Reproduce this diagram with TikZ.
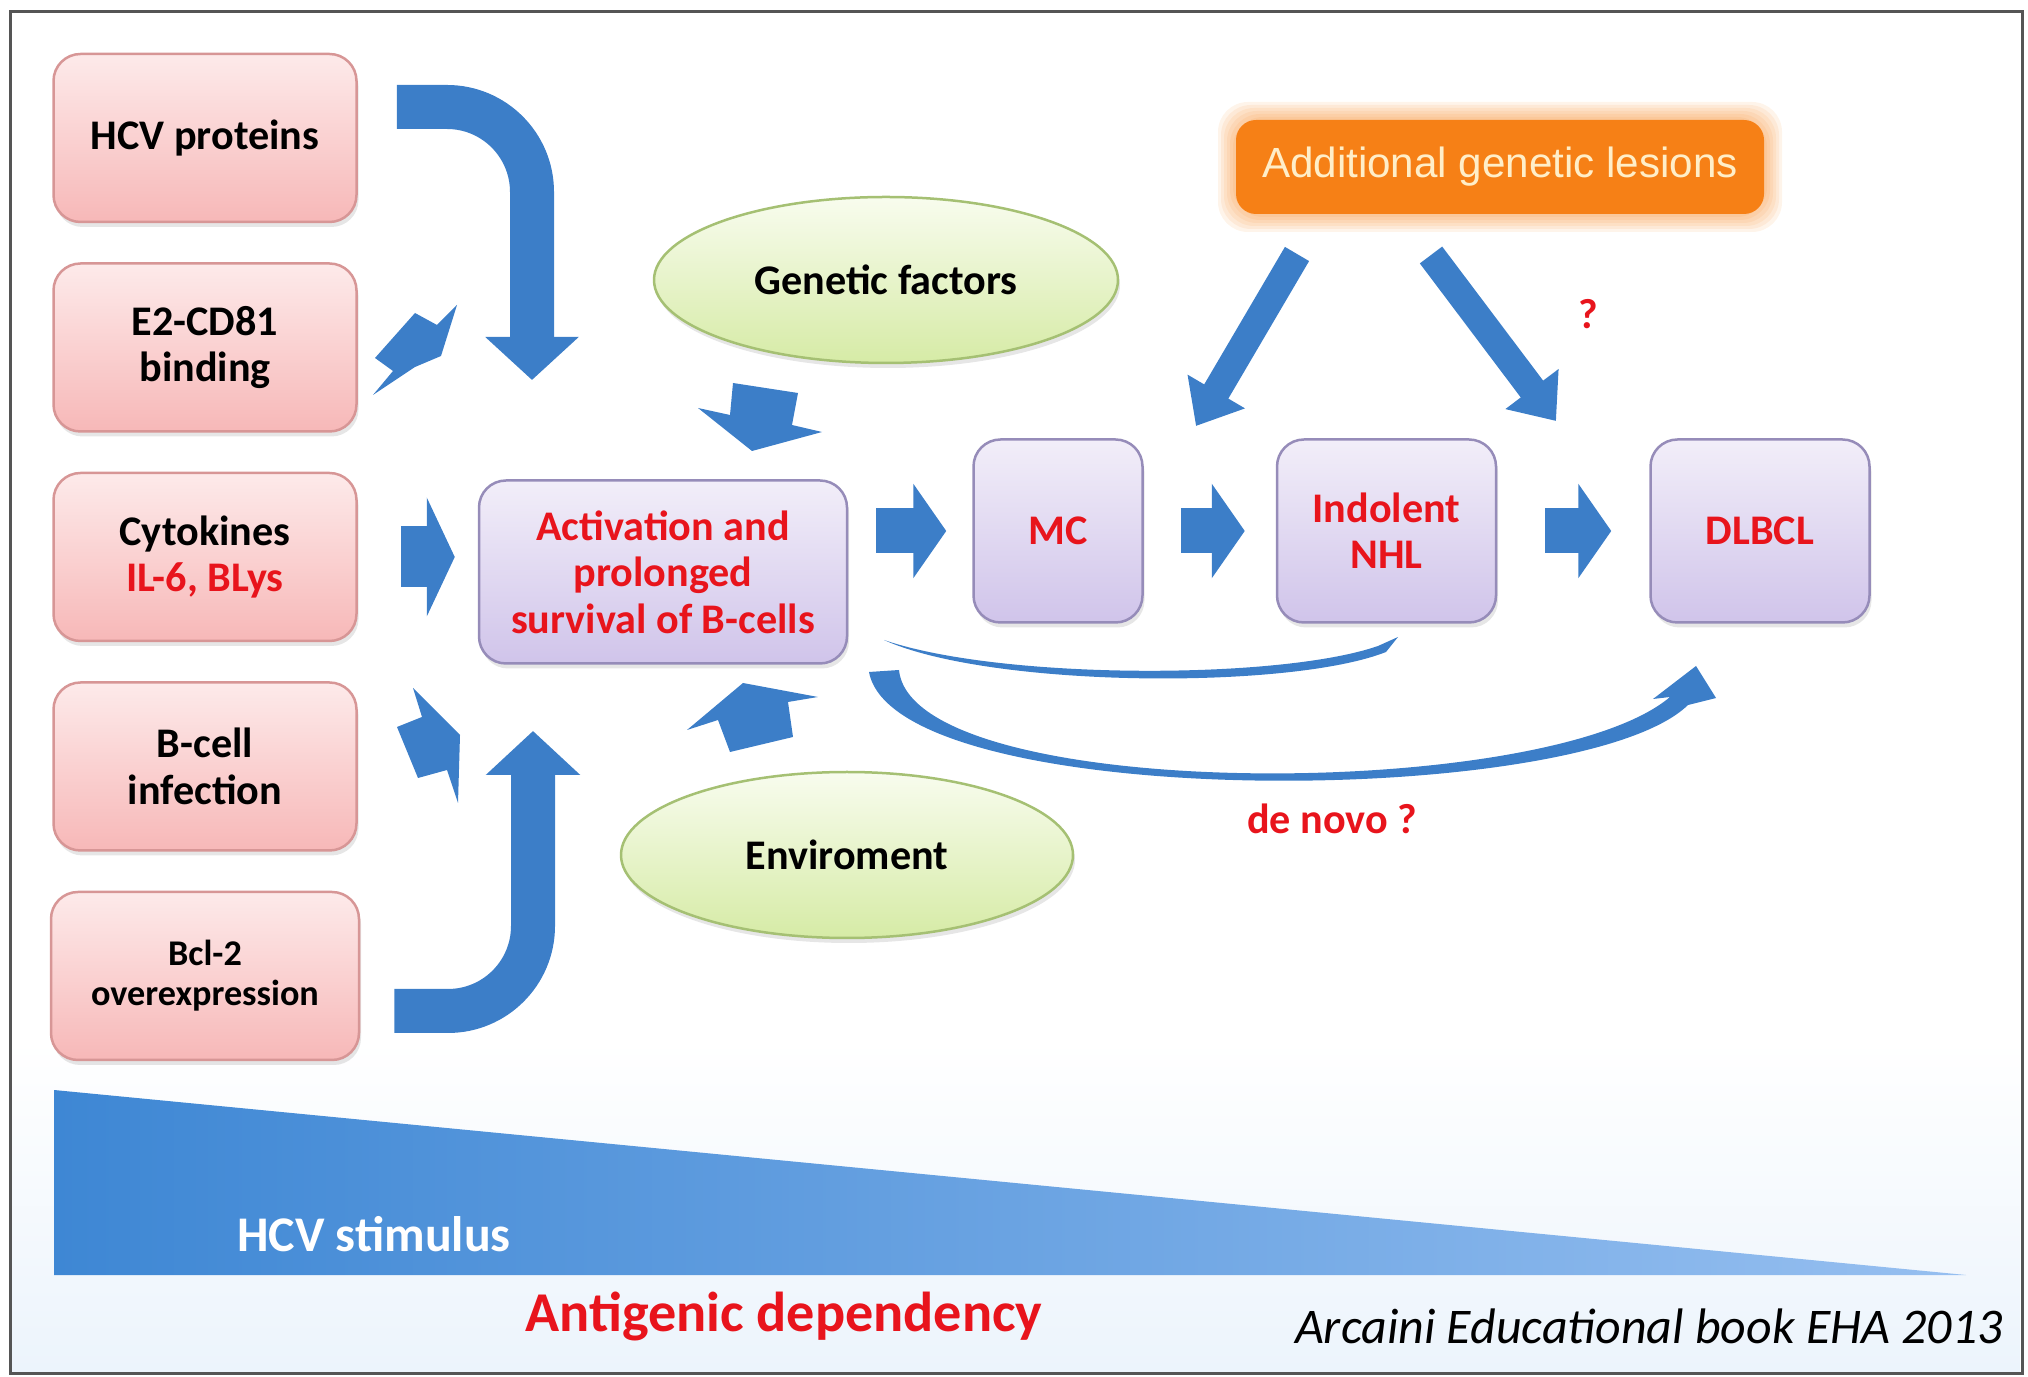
\documentclass[tikz,border=0pt]{standalone}
\usepackage{fontspec}
\setmainfont{Carlito}
\newfontfamily\arialfont{Liberation Sans}
\usetikzlibrary{positioning,arrows.meta,shapes.geometric,shadows}

\definecolor{pinktop}{RGB}{253,234,234}
\definecolor{pinkbot}{RGB}{247,184,184}
\definecolor{pinkline}{RGB}{215,150,150}
\definecolor{lilactop}{RGB}{242,238,249}
\definecolor{lilacbot}{RGB}{208,196,234}
\definecolor{lilacline}{RGB}{150,140,185}
\definecolor{greentop}{RGB}{248,252,238}
\definecolor{greenbot}{RGB}{214,235,166}
\definecolor{greenline}{RGB}{165,192,115}
\definecolor{arrowblue}{RGB}{60,126,200}
\definecolor{orangebox}{RGB}{246,128,22}
\definecolor{cream}{RGB}{255,238,200}
\definecolor{txtred}{RGB}{232,20,28}
\definecolor{wedgeleft}{RGB}{62,135,212}
\definecolor{wedgeright}{RGB}{150,191,240}
\definecolor{framegray}{RGB}{85,85,85}
\definecolor{paletint}{RGB}{236,244,252}

\tikzset{
  cause/.style={rectangle, rounded corners=2.7mm, draw=pinkline, line width=0.25mm,
    top color=pinktop, bottom color=pinkbot, minimum width=30.3mm, minimum height=16.8mm,
    align=center, font=\fontsize{12}{13.2}\selectfont\bfseries,
    drop shadow={shadow xshift=0.2mm, shadow yshift=-0.5mm, opacity=0.2}},
  stage/.style={rectangle, rounded corners=2.7mm, draw=lilacline, line width=0.25mm,
    top color=lilactop, bottom color=lilacbot, minimum height=18.3mm,
    align=center, text=txtred, font=\fontsize{12}{13.2}\selectfont\bfseries,
    drop shadow={shadow xshift=0.2mm, shadow yshift=-0.5mm, opacity=0.2}},
  factor/.style={ellipse, draw=greenline, line width=0.25mm,
    top color=greentop, bottom color=greenbot, minimum height=16.6mm,
    font=\fontsize{12}{13.2}\selectfont\bfseries,
    drop shadow={shadow xshift=0.2mm, shadow yshift=-0.5mm, opacity=0.2}},
  barrow/.style={draw=arrowblue, line width=4.5mm, -{Triangle[length=3.3mm,width=9.3mm]}},
  redlabel/.style={text=txtred, font=\fontsize{12}{14}\selectfont\bfseries}
}

\begin{document}
\begin{tikzpicture}[x=0.1mm, y=-0.1mm]
\useasboundingbox (0,0) rectangle (2028,1377);
% faint tint behind the wedge
\shade[top color=white, bottom color=paletint] (12,1040) rectangle (2020,1371);
\draw[line width=0.3mm, framegray] (10,12) rectangle (2022,1373);

% inputs on the left
\node[cause] (hcv) at (205,138) {HCV proteins};
\node[cause, below=3.9mm of hcv] (e2) {E2-CD81\\binding};
\node[cause, below=3.9mm of e2] (cyto) {Cytokines\\\textcolor{txtred}{IL-6, BLys}};
\node[cause, below=3.9mm of cyto] (bcell) {B-cell\\infection};
\node[cause, below=3.9mm of bcell, minimum width=30.8mm, font=\fontsize{10.3}{11.4}\selectfont\bfseries] (bcl) {Bcl-2\\overexpression};

% central box and the stages
\node[stage, minimum width=36.8mm] (act) at (663,572) {Activation and\\prolonged\\survival of B-cells};
\node[stage, minimum width=16.9mm] (mc) at (1058,531) {MC};
\node[stage, minimum width=21.9mm, right=13.2mm of mc] (ind) {Indolent\\NHL};
\node[stage, minimum width=21.9mm, right=15.2mm of ind] (dl) {DLBCL};

\node[factor, minimum width=46.4mm] (gen) at (886,280) {Genetic factors};
\node[factor, minimum width=45.2mm] (env) at (847,855) {Enviroment};

% glowing lesion box
\foreach \g in {1,...,6}
  \fill[orangebox, opacity=0.09, rounded corners=3mm] (1236-3*\g,120-3*\g) rectangle (1764+3*\g,214+3*\g);
\node[rectangle, rounded corners=2mm, fill=orangebox, minimum width=52.8mm, minimum height=9.4mm,
  text=cream, font=\arialfont\fontsize{12}{14}\selectfont] (add) at (1500,167) {Additional genetic lesions};

% bent arrows
\coordinate (hcvout) at ([xshift=3.9mm, yshift=3.1mm]hcv.east);
\coordinate (hcvin) at (532,380);
\draw[barrow, line width=4.4mm, rounded corners=8.5mm, -{Triangle[length=4.3mm,width=9.1mm]}] (hcvout) -| (hcvin);
\coordinate (bclout) at ([xshift=3.4mm, yshift=-3.5mm]bcl.east);
\coordinate (bclin) at (533,731);
\draw[barrow, line width=4.4mm, rounded corners=8.5mm, -{Triangle[length=4.4mm,width=9.2mm]}] (bclout) -| (bclin);

% straight block arrows
\draw[barrow, line width=6.1mm, -{Triangle[length=2.8mm,width=11.8mm]}, shorten <=4.3mm, shorten >=2.3mm] (cyto.east) -- (cyto.east -| act.west);
\draw[barrow, shorten <=2.8mm, shorten >=2.6mm] (act.east |- mc) -- (mc.west);
\draw[barrow, shorten <=3.7mm, shorten >=3.1mm] (mc) -- (ind);
\draw[barrow, shorten <=4.8mm, shorten >=3.8mm] (ind) -- (dl);

% arrows from the lesions
\coordinate (lesl) at (1297,254);
\coordinate (lesr) at (1431,255);
\coordinate (tomc) at (1196,426);
\coordinate (todl) at (1556,421);
\draw[barrow, line width=2.8mm, -{Triangle[length=4mm,width=6.4mm]}] (lesl) -- (tomc);
\draw[barrow, line width=2.8mm, -{Triangle[length=4mm,width=6.4mm]}] (lesr) -- (todl);
\node[redlabel] (q) at (1588,314) {?};

% tilted small arrows
\fill[arrowblue] (375,358) -- (415,313) -- (437,325) -- (457,305) -- (441,356) -- (415,367) -- (373,395) -- (393,371) -- cycle;
\fill[arrowblue] (413,688) -- (460,735) -- (458,803) -- (447,770) -- (418,778) -- (397,727) -- (422,717) -- cycle;
\fill[arrowblue] (733,383) -- (798,393) -- (792,425) -- (822,432) -- (752,451) -- (698,408) -- (730,415) -- cycle;
\fill[arrowblue] (743,683) -- (818,697) -- (788,702) -- (793,737) -- (730,752) -- (718,720) -- (687,730) -- cycle;

% curved arrows under the stages
\fill[arrowblue] (884,640) .. controls (990,688) and (1290,690) .. (1386,652) -- (1398,637) -- (1378,646) .. controls (1280,680) and (1000,680) .. (884,640);
\fill[arrowblue] (869,672) .. controls (895,812) and (1580,810) .. (1688,705) -- (1716,698) -- (1696,666) -- (1653,699) -- (1670,697) .. controls (1545,803) and (912,803) .. (899,670) -- cycle;
\node[redlabel] (denovo) at (1332,819) {de novo ?};

% stimulus wedge
\shade[left color=wedgeleft, right color=wedgeright] (54,1090) -- (54,1275) -- (1966,1275) -- cycle;
\node[text=white, font=\fontsize{14.2}{16}\selectfont\bfseries] (stim) at (374,1234) {HCV stimulus};
\node[text=txtred, font=\fontsize{16}{18}\selectfont\bfseries] (antigen) at (784,1316) {Antigenic dependency};
\node[font=\fontsize{14.2}{16}\selectfont\itshape] (cite) at (1649,1326) {Arcaini Educational book EHA 2013};
\end{tikzpicture}
\end{document}
